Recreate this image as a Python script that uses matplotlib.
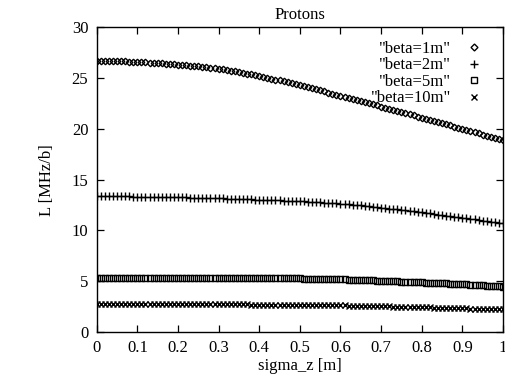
import numpy as np
import matplotlib
matplotlib.use("Agg")
import matplotlib.pyplot as plt
from matplotlib.ticker import FormatStrFormatter

# sigma_z grid [m], step 0.01
sigma_z = np.linspace(0.0, 1.0, 101)

beta_1m = [26.68, 26.68, 26.67, 26.67, 26.66, 26.65,
           26.64, 26.63, 26.61, 26.60, 26.58,
           26.56, 26.54, 26.52, 26.50, 26.47,
           26.44, 26.41, 26.38, 26.35, 26.32,
           26.28, 26.24, 26.21, 26.17, 26.13,
           26.09, 26.04, 26.00, 25.95, 25.90,
           25.84, 25.78, 25.72, 25.66, 25.58,
           25.51, 25.43, 25.36, 25.27, 25.18,
           25.10, 25.02, 24.94, 24.85, 24.76,
           24.67, 24.57, 24.48, 24.38, 24.28,
           24.18, 24.08, 23.98, 23.88, 23.78,
           23.68, 23.57, 23.47, 23.36, 23.26,
           23.15, 23.05, 22.94, 22.84, 22.73,
           22.62, 22.52, 22.41, 22.30, 22.19,
           22.08, 21.97, 21.87, 21.76, 21.65,
           21.54, 21.43, 21.32, 21.21, 21.10,
           20.99, 20.88, 20.77, 20.66, 20.55,
           20.44, 20.33, 20.21, 20.10, 19.99,
           19.88, 19.77, 19.66, 19.54, 19.43,
           19.32, 19.21, 19.10, 18.98, 18.87]

beta_2m = [13.37, 13.37, 13.37, 13.37, 13.36, 13.36,
           13.36, 13.35, 13.35, 13.34, 13.34,
           13.33, 13.33, 13.32, 13.32, 13.31,
           13.30, 13.29, 13.29, 13.28, 13.27,
           13.26, 13.25, 13.24, 13.23, 13.22,
           13.21, 13.20, 13.19, 13.17, 13.16,
           13.15, 13.14, 13.12, 13.11, 13.10,
           13.09, 13.07, 13.06, 13.04, 13.03,
           13.02, 13.00, 12.99, 12.97, 12.96,
           12.94, 12.93, 12.91, 12.90, 12.88,
           12.86, 12.84, 12.82, 12.80, 12.78,
           12.75, 12.72, 12.70, 12.67, 12.64,
           12.60, 12.57, 12.53, 12.50, 12.46,
           12.42, 12.38, 12.34, 12.29, 12.25,
           12.20, 12.16, 12.11, 12.07, 12.02,
           11.97, 11.92, 11.87, 11.82, 11.77,
           11.72, 11.67, 11.62, 11.56, 11.51,
           11.46, 11.40, 11.35, 11.29, 11.24,
           11.19, 11.13, 11.08, 11.02, 10.97,
           10.91, 10.86, 10.80, 10.75, 10.69]

beta_5m = [5.36, 5.36, 5.36, 5.36, 5.36, 5.36,
           5.36, 5.36, 5.36, 5.36, 5.36,
           5.36, 5.36, 5.36, 5.36, 5.36,
           5.36, 5.36, 5.35, 5.35, 5.35,
           5.35, 5.35, 5.35, 5.35, 5.35,
           5.35, 5.35, 5.34, 5.34, 5.34,
           5.34, 5.34, 5.33, 5.33, 5.33,
           5.33, 5.33, 5.32, 5.32, 5.32,
           5.32, 5.31, 5.31, 5.30, 5.30,
           5.30, 5.29, 5.29, 5.28, 5.28,
           5.27, 5.26, 5.26, 5.25, 5.24,
           5.23, 5.22, 5.21, 5.20, 5.19,
           5.18, 5.17, 5.15, 5.14, 5.13,
           5.12, 5.10, 5.09, 5.07, 5.06,
           5.04, 5.03, 5.01, 5.00, 4.98,
           4.96, 4.95, 4.93, 4.92, 4.90,
           4.88, 4.86, 4.85, 4.83, 4.81,
           4.79, 4.77, 4.75, 4.73, 4.71,
           4.69, 4.67, 4.64, 4.62, 4.60,
           4.58, 4.55, 4.53, 4.50, 4.48]

beta_10m = [2.73, 2.73, 2.73, 2.73, 2.73, 2.73,
            2.73, 2.73, 2.73, 2.73, 2.73,
            2.73, 2.73, 2.73, 2.73, 2.73,
            2.73, 2.73, 2.73, 2.73, 2.73,
            2.73, 2.73, 2.72, 2.72, 2.72,
            2.72, 2.72, 2.72, 2.72, 2.72,
            2.72, 2.72, 2.72, 2.72, 2.72,
            2.72, 2.72, 2.71, 2.71, 2.71,
            2.71, 2.71, 2.70, 2.70, 2.70,
            2.70, 2.70, 2.69, 2.69, 2.69,
            2.69, 2.68, 2.68, 2.67, 2.67,
            2.66, 2.66, 2.65, 2.65, 2.64,
            2.63, 2.62, 2.62, 2.61, 2.60,
            2.59, 2.58, 2.57, 2.56, 2.55,
            2.54, 2.53, 2.52, 2.51, 2.50,
            2.49, 2.48, 2.47, 2.46, 2.45,
            2.44, 2.43, 2.42, 2.41, 2.40,
            2.39, 2.38, 2.36, 2.35, 2.34,
            2.33, 2.32, 2.31, 2.30, 2.29,
            2.28, 2.26, 2.25, 2.24, 2.23]

labels = ['"beta=1m"', '"beta=2m"', '"beta=5m"', '"beta=10m"']
x_ticks = [0, 0.1, 0.2, 0.3, 0.4, 0.5, 0.6, 0.7, 0.8, 0.9, 1]
y_ticks = [0, 5, 10, 15, 20, 25, 30]

plt.rcParams["font.family"] = ["Liberation Serif", "DejaVu Serif"]
plt.rcParams["font.size"] = 12

fig = plt.figure(figsize=(5.05, 3.77), dpi=100)
ax = fig.add_axes([0.1915, 0.119, 0.8045, 0.809])

styles = [
    dict(marker="D", ms=3.3, mfc="none", mew=1.0),
    dict(marker="+", ms=6, mew=1.0),
    dict(marker="s", ms=4, mfc="none", mew=1.0),
    dict(marker="x", ms=4, mew=1.0),
]
for ys, lab, st in zip([beta_1m, beta_2m, beta_5m, beta_10m], labels, styles):
    ax.plot(sigma_z, ys, linestyle="none", color="black", mec="black",
            label=lab, **st)

ax.set_xlim(0, 1)
ax.set_ylim(0, 30)
ax.set_xticks(x_ticks)
ax.set_yticks(y_ticks)
ax.xaxis.set_major_formatter(FormatStrFormatter("%g"))
ax.tick_params(direction="in", top=True, right=True, length=5, width=0.9,
               labelsize=12, pad=6)
for sp in ax.spines.values():
    sp.set_linewidth(1.0)

ax.set_title("Protons", fontsize=12, pad=6)
ax.set_xlabel("sigma_z [m]", fontsize=12, labelpad=1)
ax.set_ylabel("L [MHz/b]", fontsize=12, labelpad=12)

leg = ax.legend(loc="upper right", bbox_to_anchor=(0.95, 0.955),
                markerfirst=False, frameon=False, numpoints=1,
                handlelength=1.0, handletextpad=0.9, labelspacing=0.03,
                borderpad=0, borderaxespad=0, fontsize=12)
for h, ms in zip(leg.legend_handles, [3.5, 5.5, 3.8, 3.8]):
    h.set_markersize(ms)

fig.savefig("out.png", dpi=100)
plt.close(fig)
